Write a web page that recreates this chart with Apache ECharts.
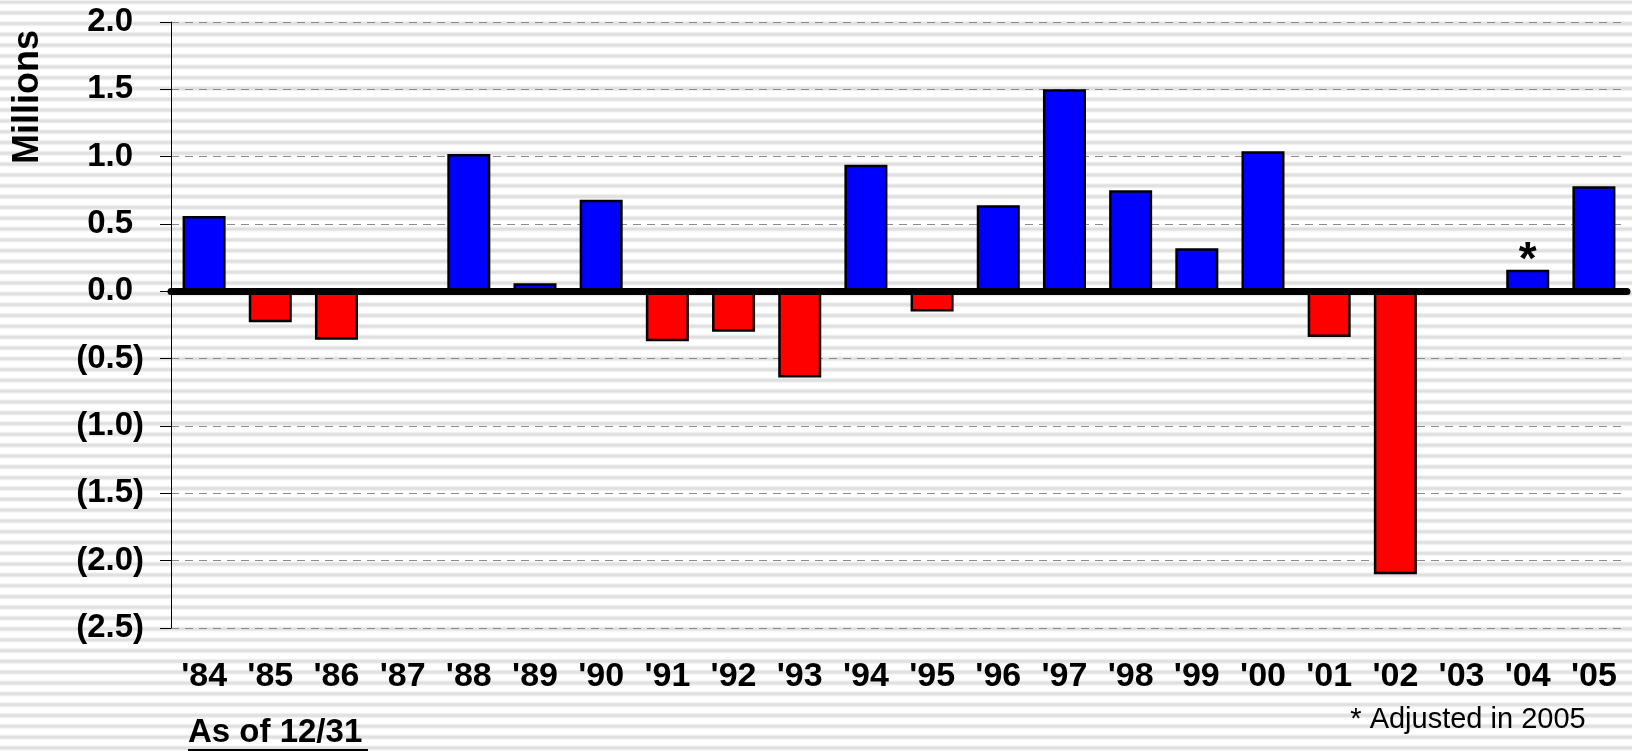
<!DOCTYPE html>
<html>
<head>
<meta charset="utf-8">
<script src="https://cdn.jsdelivr.net/npm/echarts@6/dist/echarts.min.js"></script>
<style>
  html, body { margin: 0; padding: 0; }
  body {
    width: 1632px; height: 751px; overflow: hidden;
    background: repeating-linear-gradient(to bottom,
      #e6e6e6 0px, #dcdcdc 1.5px, #e6e6e6 3px, #ffffff 4.2px,
      #ffffff 9.6px, #e6e6e6 10.81px);
    background-position: 0 0.5px;
  }
  #chart { width: 1632px; height: 751px; }
</style>
</head>
<body>
<div id="chart"></div>
<script>
// year-end change, millions
const years = ["'84", "'85", "'86", "'87", "'88", "'89", "'90", "'91", "'92", "'93", "'94",
  "'95", "'96", "'97", "'98", "'99", "'00", "'01", "'02", "'03", "'04", "'05"]
const changes = [0.56, -0.23, -0.36, 0, 1.02, 0.06, 0.68, -0.37, -0.30, -0.64, 0.94,
  -0.15, 0.64, 1.50, 0.75, 0.32, 1.04, -0.34, -2.10, 0, 0.16, 0.78]
const starred = ["'04"]
const yMin = -2.5
const yMax = 2.0
const yStep = 0.5

const FONT = '"Liberation Sans", Arial, sans-serif'

const chart = echarts.init(document.getElementById('chart'), null, { renderer: 'canvas' })

chart.setOption({
  animation: false,
  backgroundColor: 'transparent',
  grid: { left: 171, right: 5, top: 22, bottom: 123 },
  xAxis: {
    type: 'category',
    data: years,
    axisLine: { show: false },
    axisTick: { show: false },
    axisLabel: {
      color: '#000', fontFamily: FONT, fontWeight: 'bold', fontSize: 34,
      margin: 32, interval: 0
    }
  },
  yAxis: {
    type: 'value',
    min: yMin,
    max: yMax,
    interval: yStep,
    axisLine: { show: true, lineStyle: { color: '#000', width: 1 } },
    axisTick: { show: true, inside: false, length: 11, lineStyle: { color: '#000', width: 1 } },
    axisLabel: {
      color: '#000', fontFamily: FONT, fontWeight: 'bold', fontSize: 33, margin: 27,
      // positives keep room for the closing paren so the digits line up
      formatter: v => (v < 0 ? '(' + Math.abs(v).toFixed(1) + ')' : '{p|' + v.toFixed(1) + '}'),
      rich: {
        p: { color: '#000', fontFamily: FONT, fontWeight: 'bold', fontSize: 33, padding: [0, 11, 0, 0] }
      }
    },
    splitLine: { show: true, lineStyle: { color: '#8c8c8c', width: 1, type: [8, 6] } }
  },
  series: [{
    type: 'bar',
    barCategoryGap: '35%',
    data: changes.map((v, i) => ({
      value: v,
      label: starred.includes(years[i])
        ? { show: true, position: 'top', formatter: '*', distance: -15,
            color: '#000', fontFamily: FONT, fontWeight: 'bold', fontSize: 46 }
        : { show: false }
    })),
    itemStyle: {
      color: p => (p.value >= 0 ? '#0000ff' : '#ff0000'),
      borderColor: '#000',
      borderWidth: 2.5
    },
    markLine: {
      silent: true,
      symbol: ['none', 'none'],
      label: { show: false },
      lineStyle: { color: '#000', width: 7, type: 'solid', cap: 'round' },
      data: [{ yAxis: 0 }]
    }
  }],
  graphic: [
    {
      type: 'text', x: 28, y: 97, rotation: Math.PI / 2,
      style: {
        text: 'Millions', fill: '#000', font: 'bold 36px ' + FONT,
        align: 'center', verticalAlign: 'middle'
      }
    },
    {
      type: 'text', x: 188, y: 733,
      style: {
        text: 'As of 12/31', fill: '#000', font: 'bold 33px ' + FONT,
        align: 'left', verticalAlign: 'middle'
      }
    },
    {
      type: 'line', shape: { x1: 188, y1: 750, x2: 368, y2: 750 },
      style: { stroke: '#000', lineWidth: 2 }
    },
    {
      type: 'text', x: 1468, y: 720,
      style: {
        text: '* Adjusted in 2005', fill: '#000', font: '29px ' + FONT,
        align: 'center', verticalAlign: 'middle'
      }
    }
  ]
})
</script>
</body>
</html>
